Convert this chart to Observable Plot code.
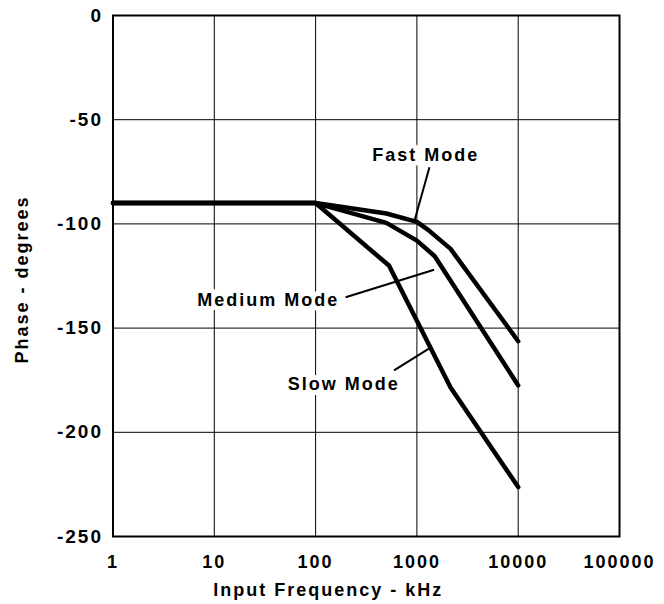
<!DOCTYPE html>
<html>
<head>
<meta charset="utf-8">
<script src="https://cdn.jsdelivr.net/npm/d3@7"></script>
<script src="https://cdn.jsdelivr.net/npm/@observablehq/plot@0.6"></script>
<style>
  html, body { margin: 0; padding: 0; background: #fff; }
  #chart { width: 664px; height: 604px; }
</style>
</head>
<body>
<div id="chart"></div>
<script>
// ---- data ----
const fastFreq = [1, 100, 500, 1000, 1300, 2150, 10000];
const fastPhase = [-90, -90, -95, -99, -103, -112, -156.3];
const mediumFreq = [1, 100, 500, 1000, 1500, 10000];
const mediumPhase = [-90, -90, -99.5, -108, -115.5, -177.5];
const slowFreq = [1, 100, 530, 2150, 10000];
const slowPhase = [-90, -90, -120, -178.5, -226.3];

const labelText = ["Fast Mode", "Medium Mode", "Slow Mode"];
const labelFreq = [1224, 34, 190];
const labelPhase = [-67.2, -136.8, -177];
const leaderFreq1 = [1330, 198, 595];
const leaderPhase1 = [-72.8, -135.2, -170.3];
const leaderFreq2 = [938, 1479, 1350];
const leaderPhase2 = [-99.2, -122, -159.5];

const xTicks = [1, 10, 100, 1000, 10000, 100000];
const yTicks = [0, -50, -100, -150, -200, -250];
const xTitle = "Input Frequency - kHz";
const yTitle = "Phase - degrees";

// ---- build tables ----
const curves = [
  ...fastFreq.map((f, i) => ({mode: "Fast", f, p: fastPhase[i]})),
  ...mediumFreq.map((f, i) => ({mode: "Medium", f, p: mediumPhase[i]})),
  ...slowFreq.map((f, i) => ({mode: "Slow", f, p: slowPhase[i]}))
];
const labels = labelText.map((t, i) => ({t, f: labelFreq[i], p: labelPhase[i]}));
const leaders = labelText.map((t, i) => ({
  f1: leaderFreq1[i], p1: leaderPhase1[i], f2: leaderFreq2[i], p2: leaderPhase2[i]
}));

const chart = Plot.plot({
  width: 664,
  height: 604,
  marginLeft: 112.5,
  marginRight: 45,
  marginTop: 15,
  marginBottom: 68,
  style: {
    fontFamily: "'Liberation Sans', Arial, Helvetica, sans-serif",
    fontWeight: "bold",
    fontSize: "18px",
    letterSpacing: "2px",
    color: "#000",
    background: "#fff"
  },
  x: {type: "log", domain: [1, 100000]},
  y: {domain: [-250, 0]},
  marks: [
    Plot.gridX(xTicks, {stroke: "#000", strokeOpacity: 1, strokeWidth: 1}),
    Plot.gridY(yTicks, {stroke: "#000", strokeOpacity: 1, strokeWidth: 1}),
    Plot.axisX({ticks: xTicks, tickSize: 0, tickPadding: 19, tickFormat: d => String(d), label: null, fontSize: 18}),
    Plot.axisY({ticks: yTicks, tickSize: 0, tickPadding: 10, tickFormat: d => String(d), label: null, fontSize: 19}),
    Plot.text([xTitle], {frameAnchor: "bottom", textAnchor: "middle", lineAnchor: "middle", dx: -38, dy: 54, text: d => d, fontSize: 18}),
    Plot.text([yTitle], {frameAnchor: "left", textAnchor: "middle", lineAnchor: "middle", rotate: -90, dx: -90.5, dy: 3.5, text: d => d, fontSize: 18}),
    Plot.link(leaders, {x1: "f1", y1: "p1", x2: "f2", y2: "p2", stroke: "#000", strokeWidth: 2}),
    Plot.line(curves, {x: "f", y: "p", z: "mode", stroke: "#000", strokeWidth: 4.5, strokeLinejoin: "round", strokeLinecap: "round"}),
    Plot.text(labels, {x: "f", y: "p", text: "t", fontSize: 18, stroke: "white", strokeWidth: 10, fill: "#000"}),
    Plot.frame({stroke: "#000", strokeWidth: 2})
  ]
});
document.getElementById("chart").appendChild(chart);
</script>
</body>
</html>
